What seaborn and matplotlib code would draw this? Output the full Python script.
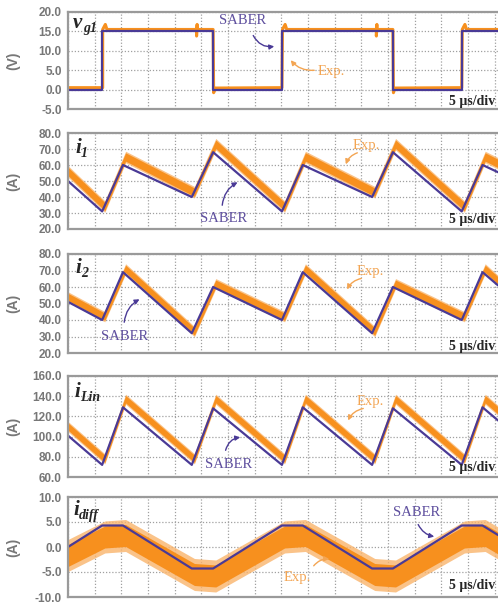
import pandas as pd
import seaborn as sns
import matplotlib.pyplot as plt
from matplotlib.patches import FancyArrowPatch

W, H = 498, 603

# switching instants (us), SABER and measured (slightly delayed)
t_sim = [0, 6.4, 10.3, 23.2, 27.2, 40.1, 44.0, 57.0, 60.9, 73.8, 77.7, 80.6]
t_exp = [0, 6.9, 10.8, 23.7, 27.7, 40.6, 44.5, 57.5, 61.4, 74.3, 78.2, 80.6]

# gate voltage vg1
vg_t = [0, 6.4, 27.2, 40.1, 60.9, 73.8, 80.6]
vg_sim = [0, 15, 0, 15, 0, 15, 15]
vg_exp_t = [0, 6.5, 6.5, 7.0, 7.3, 24.1, 24.1, 24.2, 24.2, 27.2, 27.3, 27.6,
            40.1, 40.2, 40.7, 41.0, 57.8, 57.8, 57.9, 57.9, 60.9, 61.0, 61.3,
            73.8, 73.9, 74.4, 74.7, 80.6]
vg_exp = [0.5, 0.5, 15.5, 16.8, 15.5, 15.5, 13.8, 16.8, 15.5, 15.5, -0.8, 0.4,
          0.5, 15.5, 16.8, 15.5, 15.5, 13.8, 16.8, 15.5, 15.5, -0.8, 0.4,
          0.5, 15.5, 16.8, 15.5, 15.5]

# phase currents (A)
i1_sim = [50, 31, 60, 40, 68, 31, 60, 40, 68, 31, 60, 55.5]
i1_exp = [56, 34, 65, 43, 73, 34, 65, 43, 73, 34, 65, 61]
i2_sim = [51, 40, 69, 32, 60, 40, 69, 32, 60, 40, 69, 61]
i2_exp = [54, 42, 71, 33, 62, 42, 71, 33, 62, 42, 71, 64]
ilin_sim = [101, 72, 129, 72, 128, 72, 129, 72, 128, 72, 129, 116]
ilin_exp = [110, 78, 137, 78, 137, 78, 137, 78, 137, 78, 137, 126]
idiff_sim = [0, 4.3, 4.3, -4.3, -4.3, 4.3, 4.3, -4.3, -4.3, 4.3, 4.3, 2.4]
idiff_exp = [-1.7, 2.0, 2.3, -5.5, -5.8, 2.0, 2.3, -5.5, -5.8, 2.0, 2.3, 0.8]
# half-width of the noisy measured trace (core, fringe)
band = {"i1": (2.6, 3.6), "i2": (2.2, 3.1), "ilin": (3.6, 5.0),
        "idiff": (2.2, 3.2)}

yticks = {
    "vg": [-5, 0, 5, 10, 15, 20],
    "i1": [20, 30, 40, 50, 60, 70, 80],
    "i2": [20, 30, 40, 50, 60, 70, 80],
    "ilin": [60, 80, 100, 120, 140, 160],
    "idiff": [-10, -5, 0, 5, 10],
}

PURPLE = "#4a3a96"
PURPLE_TXT = "#5e4f9e"
ORANGE = "#f7901e"
ORANGE_LT = "#f9b46c"
ORANGE_TXT = "#f3a553"
GRAY = "#777777"

sns.set_style("white")
plt.rcParams["font.family"] = ["Liberation Sans", "DejaVu Sans"]

fig = plt.figure(figsize=(W / 100, H / 100), dpi=100)

# panel extents in pixels (top, bottom)
rows = [(12, 109), (133, 229), (254, 353), (376, 477), (497, 597)]
keys = ["vg", "i1", "i2", "ilin", "idiff"]
units = ["(V)", "(A)", "(A)", "(A)", "(A)"]


def fp(x, y):
    return (x / W, 1 - y / H)


axes = []
for (top, bot), k, u in zip(rows, keys, units):
    ax = fig.add_axes([68 / W, 1 - bot / H, 430 / W, (bot - top) / H])
    ax.set_xlim(0, 80.6)
    yt = yticks[k]
    ax.set_ylim(yt[0], yt[-1])
    ax.set_yticks(yt)
    ax.set_yticklabels([f"{v:.1f}" for v in yt], color=GRAY, fontsize=8.5,
                       fontweight="bold")
    ax.set_xticks(range(0, 81, 5))
    ax.set_xticklabels([])
    ax.tick_params(axis="y", length=3, color="#999999", pad=1.5)
    ax.tick_params(axis="x", length=0)
    ax.grid(True, linestyle=(0, (1, 1.5)), color="#a0a0a0", linewidth=0.9)
    ax.set_axisbelow(True)
    for s in ["left", "top", "bottom"]:
        ax.spines[s].set_color("#9a9a9a")
        ax.spines[s].set_linewidth(1.6)
    ax.spines["right"].set_visible(False)
    ax.set_ylabel(u, color=GRAY, fontsize=10, fontweight="bold", labelpad=4)
    ax.yaxis.set_label_coords(-0.11, 0.5)
    axes.append(ax)

# vg1
ax = axes[0]
sns.lineplot(x=vg_exp_t, y=vg_exp, ax=ax, color=ORANGE, lw=2.2,
             estimator=None, sort=False)
sns.lineplot(x=vg_t, y=vg_sim, ax=ax, color=PURPLE, lw=1.6,
             drawstyle="steps-post", estimator=None)

# current panels
for ax, k, sim, exp in zip(axes[1:], keys[1:],
                           [i1_sim, i2_sim, ilin_sim, idiff_sim],
                           [i1_exp, i2_exp, ilin_exp, idiff_exp]):
    core, fringe = band[k]
    ax.fill_between(t_exp, [v - fringe for v in exp], [v + fringe for v in exp],
                    color=ORANGE_LT, lw=0, alpha=0.8)
    ax.fill_between(t_exp, [v - core for v in exp], [v + core for v in exp],
                    color=ORANGE, lw=0)
    sns.lineplot(x=t_sim, y=sim, ax=ax, color=PURPLE, lw=1.6, estimator=None)

# panel names
names = [("v", "g1", 73, 28), ("i", "1", 75, 153), ("i", "2", 75, 273),
         ("i", "Lin", 74, 397), ("i", "diff", 73, 515)]
for big, sub, x, y in names:
    fig.text(*fp(x, y), big, family="Liberation Serif", style="italic",
             weight="bold", fontsize=15, va="baseline", ha="left")
    xs = x + (10 if big == "v" else 6)
    fig.text(*fp(xs, y + 4), sub, family="Liberation Serif", style="italic",
             weight="bold", fontsize=10, va="baseline", ha="left")

# 5 us/div marks
for y in [101, 220, 346, 467, 586]:
    fig.text(*fp(449, y), "5 µs/div", family="Liberation Serif", weight="bold",
             fontsize=10, va="center", ha="left")


def note(text, color, pos):
    fig.text(*fp(*pos), text, family="Liberation Serif", fontsize=10.5,
             color=color, ha="center", va="center")


def arrow(color, start, tip, rad):
    fig.add_artist(FancyArrowPatch(
        fp(*start), fp(*tip), transform=fig.transFigure,
        arrowstyle="-|>", mutation_scale=7, color=color, lw=1.0,
        connectionstyle=f"arc3,rad={rad}"))


# SABER labels
note("SABER", PURPLE_TXT, (243, 21))
arrow(PURPLE, (252, 33), (277, 46), 0.4)
note("SABER", PURPLE_TXT, (224, 219))
arrow(PURPLE, (222, 208), (240, 181), -0.3)
note("SABER", PURPLE_TXT, (125, 337))
arrow(PURPLE, (124, 325), (142, 298), -0.3)
note("SABER", PURPLE_TXT, (229, 464))
arrow(PURPLE, (225, 453), (243, 437), -0.4)
note("SABER", PURPLE_TXT, (417, 512))
arrow(PURPLE, (417, 522), (437, 537), 0.3)

# Exp. labels
note("Exp.", ORANGE_TXT, (331, 72))
arrow(ORANGE_TXT, (317, 70), (289, 58), -0.3)
note("Exp.", ORANGE_TXT, (366, 145))
arrow(ORANGE_TXT, (360, 152), (345, 167), 0.3)
note("Exp.", ORANGE_TXT, (370, 271))
arrow(ORANGE_TXT, (364, 278), (346, 292), 0.3)
note("Exp.", ORANGE_TXT, (370, 401))
arrow(ORANGE_TXT, (366, 408), (347, 423), 0.3)
note("Exp.", ORANGE_TXT, (297, 577))
arrow(ORANGE_TXT, (312, 568), (332, 559), -0.3)

fig.savefig("out.png", dpi=100)
